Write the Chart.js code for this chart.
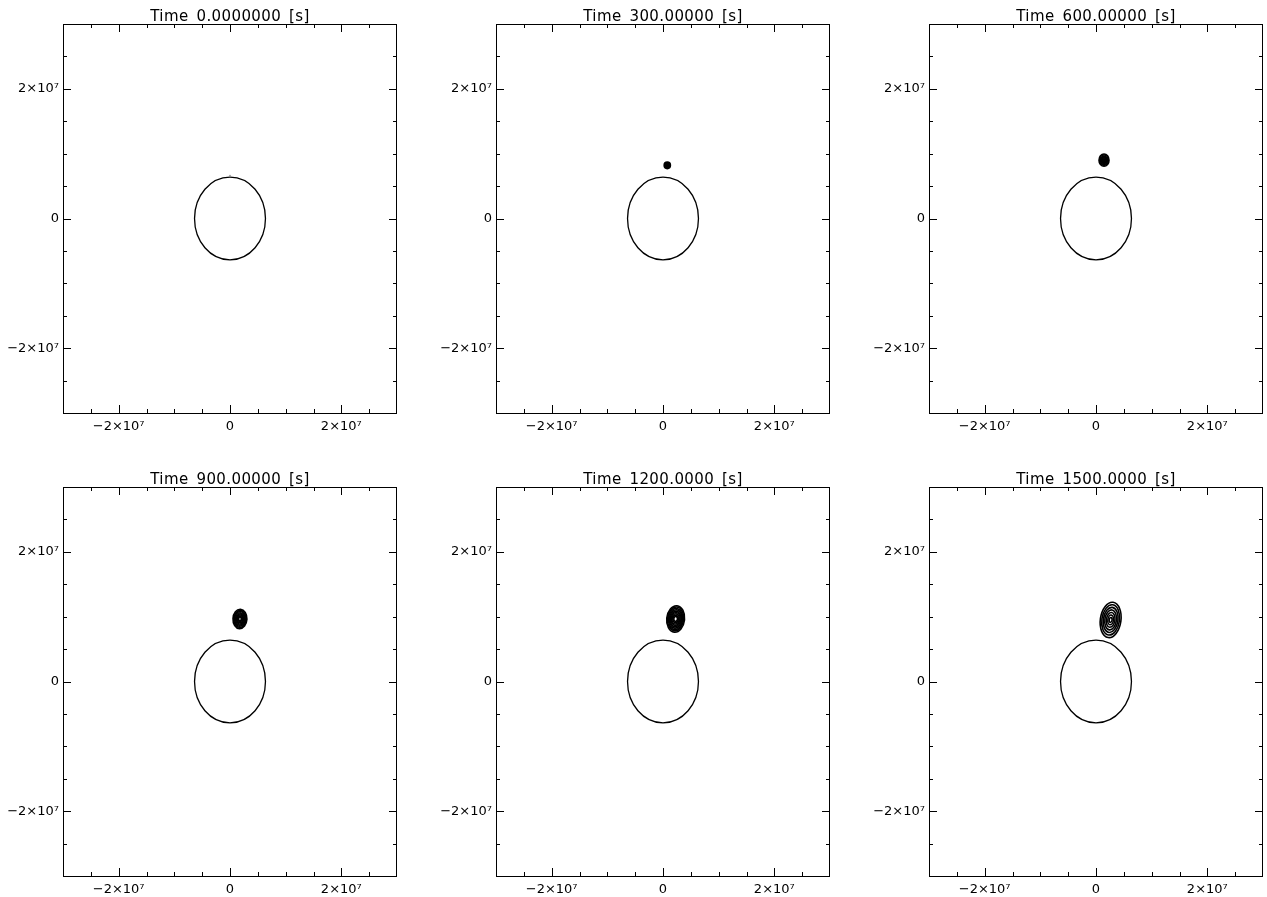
<!DOCTYPE html>
<html>
<head>
<meta charset="utf-8">
<script src="https://cdn.jsdelivr.net/npm/chart.js@4"></script>
<style>
  html, body { margin: 0; padding: 0; background: #fff; }
  #grid { position: relative; width: 1267px; height: 897px; overflow: hidden; }
  #grid canvas { position: absolute; }
</style>
</head>
<body>
<div id="grid"></div>
<script>
// Snapshot times and the way they are printed in each panel title
const TIMES = [0, 300, 600, 900, 1200, 1500];
const TIME_LABELS = ['0.0000000', '300.00000', '600.00000', '900.00000', '1200.0000', '1500.0000'];

// Axis range (metres) and tick values
const AXIS_RANGE = [-3e7, 3e7];
const LABELED_TICKS = [-2e7, 0, 2e7];
const MINOR_TICKS = [-2.5e7, -1.5e7, -1e7, -5e6, 5e6, 1e7, 1.5e7, 2.5e7];

// Earth outline radius (metres)
const EARTH_RADIUS = 6.371e6;

// Cloud position for each snapshot (metres)
const CLOUD_X = [0, 7.7e5, 1.44e6, 1.79e6, 2.27e6, 2.63e6];
const CLOUD_Y = [6.6e6, 8.2e6, 9.0e6, 9.65e6, 9.65e6, 9.5e6];
// Clockwise tilt of the contour ellipses (degrees)
const CLOUD_TILT = [0, 0, 0, 3, 6, 8];
// Semi-axes of each contour level (metres)
const CLOUD_RX = [
  [1.0e5],
  [5.6e5, 4.2e5, 2.8e5, 1.4e5],
  [9.0e5, 7.6e5, 6.2e5, 4.8e5, 3.4e5, 2.0e5, 0.8e5],
  [1.25e6, 1.1e6, 9.5e5, 8.0e5, 6.5e5, 5.0e5, 3.6e5, 2.4e5],
  [1.6e6, 1.44e6, 1.28e6, 1.12e6, 9.6e5, 8.0e5, 6.4e5, 4.8e5, 3.2e5],
  [1.85e6, 1.58e6, 1.31e6, 1.04e6, 7.7e5, 5.0e5, 2.6e5]
];
const CLOUD_RY = [
  [1.0e5],
  [5.0e5, 3.7e5, 2.5e5, 1.2e5],
  [9.5e5, 8.0e5, 6.5e5, 5.0e5, 3.5e5, 2.1e5, 0.9e5],
  [1.5e6, 1.32e6, 1.14e6, 9.6e5, 7.8e5, 6.0e5, 4.4e5, 3.0e5],
  [2.05e6, 1.84e6, 1.63e6, 1.42e6, 1.21e6, 1.0e6, 7.9e5, 5.8e5, 3.8e5],
  [2.75e6, 2.35e6, 1.95e6, 1.55e6, 1.15e6, 7.5e5, 3.8e5]
];

const FONT = 'DejaVu Sans';

function formatTick(v) {
  if (v === 0) return '0';
  const m = Math.abs(v / 1e7);
  return (v < 0 ? '\u2212' : '') + m + '\u00d710\u2077';
}

// Draws the Earth, the contour rings, the boxed frame with inward ticks and the title
const panelDecor = {
  id: 'panelDecor',
  afterDatasetsDraw(chart, args, opts) {
    const i = opts.index;
    const { ctx, chartArea: a } = chart;
    const xs = chart.scales.x, ys = chart.scales.y;
    ctx.save();
    ctx.strokeStyle = '#000';

    // Earth outline
    const ox = xs.getPixelForValue(0), oy = ys.getPixelForValue(0);
    const erx = xs.getPixelForValue(EARTH_RADIUS) - ox;
    const ery = oy - ys.getPixelForValue(EARTH_RADIUS);
    ctx.lineWidth = 1.3;
    ctx.beginPath();
    ctx.ellipse(ox, oy, erx, ery, 0, 0, Math.PI * 2);
    ctx.stroke();

    // Contour rings of the cloud
    const cx = xs.getPixelForValue(CLOUD_X[i]);
    const cy = ys.getPixelForValue(CLOUD_Y[i]);
    const tilt = CLOUD_TILT[i] * Math.PI / 180;
    ctx.lineWidth = i === 0 ? 0.8 : 1.6;
    if (i === 0) ctx.strokeStyle = '#888';
    CLOUD_RX[i].forEach((rx, k) => {
      const px = xs.getPixelForValue(CLOUD_X[i] + rx) - cx;
      const py = cy - ys.getPixelForValue(CLOUD_Y[i] + CLOUD_RY[i][k]);
      ctx.beginPath();
      ctx.ellipse(cx, cy, px, py, tilt, 0, Math.PI * 2);
      ctx.stroke();
    });
    ctx.strokeStyle = '#000';

    // Frame
    ctx.lineWidth = 1;
    ctx.strokeRect(a.left + 0.5, a.top + 0.5, a.right - a.left - 1, a.bottom - a.top);

    // Inward ticks on all four sides
    const marks = LABELED_TICKS.map(v => [v, 8]).concat(MINOR_TICKS.map(v => [v, 4]));
    ctx.beginPath();
    marks.forEach(([v, len]) => {
      const px = Math.round(xs.getPixelForValue(v)) + 0.5;
      ctx.moveTo(px, a.bottom); ctx.lineTo(px, a.bottom - len);
      ctx.moveTo(px, a.top); ctx.lineTo(px, a.top + len);
      const py = Math.round(ys.getPixelForValue(v)) + 0.5;
      ctx.moveTo(a.left, py); ctx.lineTo(a.left + len, py);
      ctx.moveTo(a.right, py); ctx.lineTo(a.right - len, py);
    });
    ctx.stroke();

    // Title
    ctx.fillStyle = '#000';
    ctx.font = '15px "' + FONT + '"';
    ctx.textAlign = 'center';
    ctx.textBaseline = 'alphabetic';
    if ('letterSpacing' in ctx) ctx.letterSpacing = '0.4px';
    ctx.fillText('Time\u2002' + TIME_LABELS[i] + '\u2002[s]', (a.left + a.right) / 2, a.top - 3);
    ctx.restore();
  }
};

function axis(pos) {
  const horizontal = pos === 'bottom';
  return {
    type: 'linear',
    position: pos,
    min: AXIS_RANGE[0],
    max: AXIS_RANGE[1],
    grid: { display: false, drawTicks: false },
    border: { display: false },
    afterBuildTicks: s => { s.ticks = LABELED_TICKS.map(v => ({ value: v })); },
    afterFit: s => { if (horizontal) s.height = 50; else s.width = 63; },
    ticks: {
      autoSkip: false,
      maxRotation: 0,
      minRotation: 0,
      color: '#000',
      padding: horizontal ? 6 : 4,
      font: { family: FONT, size: 13 },
      callback: v => formatTick(v)
    }
  };
}

const grid = document.getElementById('grid');
TIMES.forEach((t, i) => {
  const canvas = document.createElement('canvas');
  canvas.width = 433;
  canvas.height = 463;
  canvas.style.left = (i % 3) * 433 + 'px';
  canvas.style.top = Math.floor(i / 3) * 463 + 'px';
  grid.appendChild(canvas);
  new Chart(canvas, {
    type: 'scatter',
    data: {
      datasets: [{
        label: 'Time ' + t + ' s',
        data: [{ x: CLOUD_X[i], y: CLOUD_Y[i] }],
        pointRadius: 0
      }]
    },
    options: {
      responsive: false,
      animation: false,
      devicePixelRatio: 1,
      events: [],
      layout: { padding: { top: 24, right: 36, bottom: 0, left: 0 } },
      scales: { x: axis('bottom'), y: axis('left') },
      plugins: {
        legend: { display: false },
        tooltip: { enabled: false },
        panelDecor: { index: i }
      }
    },
    plugins: [panelDecor]
  });
});
</script>
</body>
</html>
